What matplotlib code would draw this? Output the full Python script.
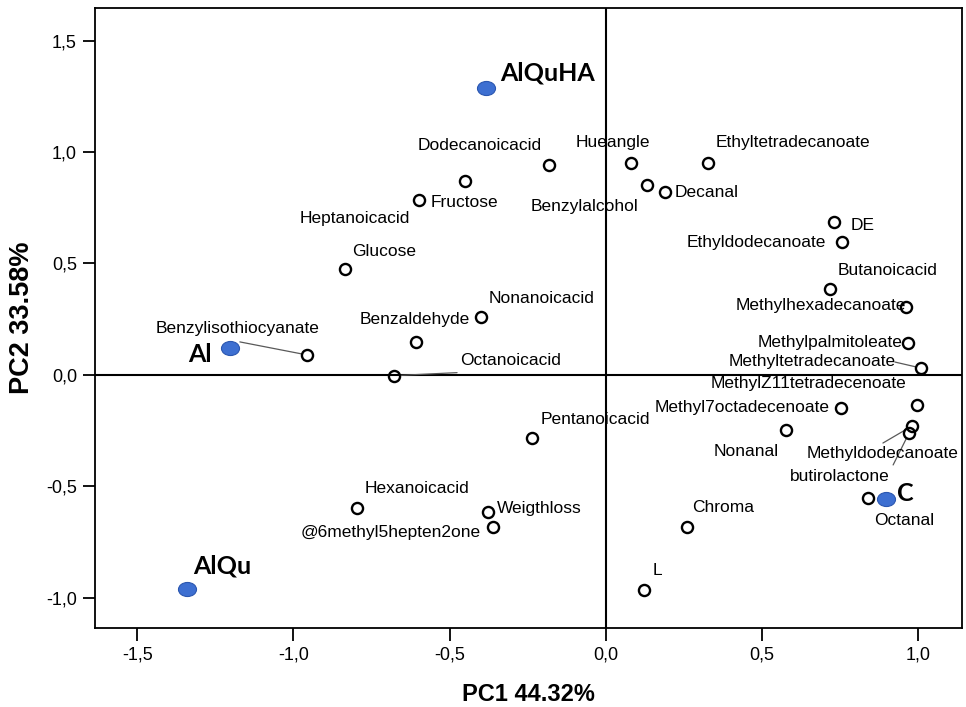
import matplotlib
matplotlib.use("Agg")
import matplotlib.pyplot as plt
from matplotlib.path import Path
from matplotlib.transforms import Affine2D

# loadings (open circles)
names = ["Dodecanoicacid", "Hueangle", "Ethyltetradecanoate", "Fructose",
         "Benzylalcohol", "Decanal", "Heptanoicacid", "Glucose", "DE",
         "Ethyldodecanoate", "Butanoicacid", "Methylhexadecanoate",
         "Nonanoicacid", "Benzaldehyde", "Benzylisothiocyanate",
         "Methylpalmitoleate", "Methyltetradecanoate", "Octanoicacid",
         "MethylZ11tetradecenoate", "Methyl7octadecenoate", "Pentanoicacid",
         "Nonanal", "Methyldodecanoate", "butirolactone", "Hexanoicacid",
         "Weigthloss", "@6methyl5hepten2one", "Chroma", "Octanal", "L"]
pc1 = [-0.182, 0.080, 0.326, -0.451, 0.131, 0.189, -0.598, -0.835, 0.730,
       0.755, 0.717, 0.960, -0.400, -0.608, -0.957, 0.966, 1.008, -0.678,
       0.995, 0.752, -0.236, 0.576, 0.979, 0.970, -0.797, -0.377, -0.361,
       0.258, 0.838, 0.123]
pc2 = [0.942, 0.951, 0.951, 0.870, 0.852, 0.821, 0.785, 0.475, 0.686,
       0.596, 0.386, 0.305, 0.260, 0.149, 0.090, 0.143, 0.031, -0.003,
       -0.135, -0.148, -0.284, -0.247, -0.229, -0.260, -0.598, -0.613,
       -0.680, -0.680, -0.552, -0.964]

# samples (blue)
samples = ["AlQuHA", "Al", "AlQu", "C"]
s_pc1 = [-0.384, -1.203, -1.342, 0.896]
s_pc2 = [1.286, 0.120, -0.961, -0.556]

# label offsets in pixels (left edge / vertical centre of text)
lab_off = [(-131, 19), (-55, 20), (8, 20), (-34, -21), (-116, -21), (10, -1),
           (-119, -19), (7, 18), (17, -3), (-155, 0), (8, 18), (-170, 1),
           (8, 19), (-56, 22), (-151, 26), (-150, 1), (-192, 7), (66, 15),
           (-206, 22), (-186, 0), (8, 19), (-72, -21), (-105, -27),
           (-119, -44), (8, 20), (9, 3), (-193, -6), (6, 19), (6, -22),
           (8, 19)]
s_off = [(14, 15), (-42, -6), (7, 23), (11, 5)]

# leader lines: name -> end offset in pixels
leaders = {"Benzylisothiocyanate": (-67, 13), "Methyltetradecanoate": (-26, 6),
           "Methyldodecanoate": (-29, -17), "butirolactone": (-16, -32),
           "Octanoicacid": (63, 3)}

lab_font = ["Liberation Sans Narrow", "Liberation Sans"]

fig = plt.figure(figsize=(9.66, 7.07), dpi=100)
ax = fig.add_axes([0.0983, 0.1117, 0.8975, 0.877])

ax.axhline(0, color="black", lw=1.5, zorder=1)
ax.axvline(0, color="black", lw=1.5, zorder=1)

for n, (dx, dy) in leaders.items():
    i = names.index(n)
    ax.annotate("", xy=(pc1[i], pc2[i]), xytext=(dx, dy), textcoords="offset pixels",
                arrowprops=dict(arrowstyle="-", color="0.35", lw=0.9,
                                shrinkA=0, shrinkB=4))

ax.plot(pc1, pc2, "o", ms=8, mfc="none", mec="black", mew=1.7, zorder=3)
for i, n in enumerate(names):
    ax.annotate(n, (pc1[i], pc2[i]), xytext=lab_off[i], textcoords="offset pixels",
                ha="left", va="center", fontsize=12.5, family=lab_font)

ell = Path.unit_circle().transformed(Affine2D().scale(1.0, 0.78))
ax.plot(s_pc1, s_pc2, ls="none", marker=ell, ms=13, mfc="#3d6fd1",
        mec="#2b57b0", mew=0.8, zorder=4)
for i, n in enumerate(samples):
    ax.annotate(n, (s_pc1[i], s_pc2[i]), xytext=s_off[i], textcoords="offset pixels",
                ha="left", va="center", fontsize=18, fontweight="bold",
                family=["Lato", "DejaVu Sans"])

ax.set_xlim(-1.635, 1.139)
ax.set_ylim(-1.135, 1.646)
ticks_x = [-1.5, -1.0, -0.5, 0.0, 0.5, 1.0]
ticks_y = [-1.0, -0.5, 0.0, 0.5, 1.0, 1.5]
ax.set_xticks(ticks_x)
ax.set_yticks(ticks_y)
ax.set_xticklabels([f"{t:.1f}".replace(".", ",") for t in ticks_x], family=lab_font, fontsize=13)
ax.set_yticklabels([f"{t:.1f}".replace(".", ",") for t in ticks_y], family=lab_font, fontsize=13)
ax.tick_params(direction="out", length=9, width=1.3, pad=4)
for s in ax.spines.values():
    s.set_linewidth(1.3)

ax.set_xlabel("PC1 44.32%", fontsize=17, fontweight="bold", family=lab_font, labelpad=14)
ax.set_ylabel("PC2 33.58%", fontsize=19.5, fontweight="bold", family=["Liberation Sans"], labelpad=8)

fig.savefig("out.png", dpi=100)
